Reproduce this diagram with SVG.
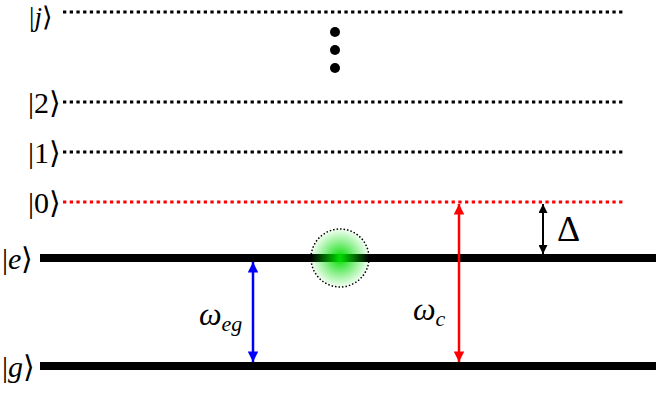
<svg xmlns="http://www.w3.org/2000/svg" width="656" height="393" viewBox="0 0 656 393">
<style>
.lvl{stroke-width:3;stroke-dasharray:3.3 3.4;fill:none}
.thick{stroke:#000;stroke-width:8}
</style>
<defs>
<radialGradient id="glow" cx="0.5" cy="0.5" r="0.5">
<stop offset="0" stop-color="#00dd00"/>
<stop offset="0.5" stop-color="#80ee80"/>
<stop offset="1" stop-color="#f4fff4"/>
</radialGradient>
<linearGradient id="bar" x1="0" x2="1" y1="0" y2="0">
<stop offset="0" stop-color="#000"/>
<stop offset="0.5" stop-color="#00dd00"/>
<stop offset="1" stop-color="#000"/>
</linearGradient>
<marker id="ab" viewBox="0 0 10 10" refX="10" refY="5" markerWidth="4.8" markerHeight="4.2" orient="auto-start-reverse" markerUnits="strokeWidth"><path d="M0,0L10,5L0,10z" fill="#0000ff"/></marker>
<marker id="ar" viewBox="0 0 10 10" refX="10" refY="5" markerWidth="4.8" markerHeight="4.2" orient="auto-start-reverse" markerUnits="strokeWidth"><path d="M0,0L10,5L0,10z" fill="#ff0000"/></marker>
<marker id="ak" viewBox="0 0 10 10" refX="10" refY="5" markerWidth="5" markerHeight="4.5" orient="auto-start-reverse" markerUnits="strokeWidth"><path d="M0,0L10,5L0,10z" fill="#000"/></marker>
</defs>
<g id="level-j"><line class="lvl" x1="63" y1="12" x2="624" y2="12" stroke="#000"/><text x="29" y="26" font-family="Liberation Serif, serif" font-size="27">|<tspan font-style="italic">j</tspan>⟩</text></g>
<g id="dots"><circle cx="335" cy="32" r="5"/><circle cx="335" cy="50" r="5"/><circle cx="335" cy="68" r="5"/></g>
<g id="level-2"><line class="lvl" x1="63" y1="102" x2="624" y2="102" stroke="#000"/><text x="28" y="113" font-family="Liberation Serif, serif" font-size="30">|2⟩</text></g>
<g id="level-1"><line class="lvl" x1="63" y1="152" x2="624" y2="152" stroke="#000"/><text x="28" y="163" font-family="Liberation Serif, serif" font-size="30">|1⟩</text></g>
<g id="level-0"><line class="lvl" x1="63" y1="202" x2="624" y2="202" stroke="#ff0000"/><text x="28" y="213" font-family="Liberation Serif, serif" font-size="30">|0⟩</text></g>
<g id="level-e"><line class="thick" x1="40" y1="258" x2="656" y2="258"/><text x="2" y="269" font-family="Liberation Serif, serif" font-size="30">|<tspan font-style="italic">e</tspan>⟩</text></g>
<g id="level-g"><line class="thick" x1="40" y1="366" x2="656" y2="366"/><text x="2" y="377" font-family="Liberation Serif, serif" font-size="30">|<tspan font-style="italic">g</tspan>⟩</text></g>
<g id="atom">
<circle cx="340" cy="258" r="29" fill="url(#glow)" stroke="#000" stroke-width="1.5" stroke-dasharray="1.5 2"/>
<rect x="311" y="254" width="58" height="8" fill="url(#bar)"/>
</g>
<g id="connectors">
<line x1="253" y1="262" x2="253" y2="362" stroke="#0000ff" stroke-width="2.5" marker-start="url(#ab)" marker-end="url(#ab)"/>
<line x1="459" y1="204" x2="459" y2="362" stroke="#ff0000" stroke-width="2.5" marker-start="url(#ar)" marker-end="url(#ar)"/>
<line x1="543" y1="204" x2="543" y2="254" stroke="#000" stroke-width="2" marker-start="url(#ak)" marker-end="url(#ak)"/>
</g>
<g id="labels">
<text x="199" y="325" font-family="Liberation Serif, serif" font-size="32" font-style="italic">ω<tspan font-size="22" dy="6">eg</tspan></text>
<text x="413" y="320" font-family="Liberation Serif, serif" font-size="32" font-style="italic">ω<tspan font-size="22" dy="6">c</tspan></text>
<text x="557" y="241" font-family="Liberation Serif, serif" font-size="36">Δ</text>
</g>
</svg>
